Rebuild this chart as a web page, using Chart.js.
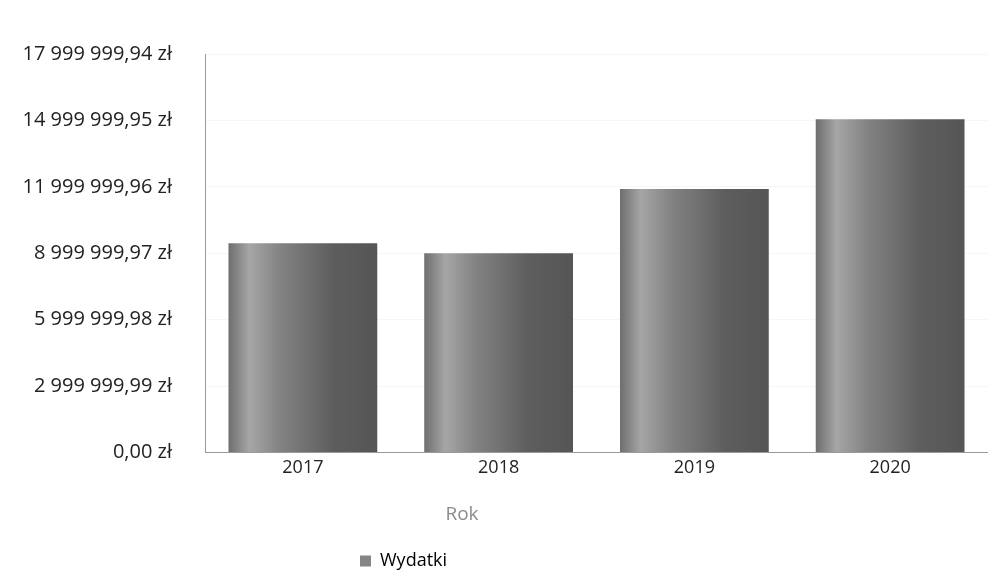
<!DOCTYPE html>
<html>
<head>
<meta charset="utf-8">
<script src="https://cdn.jsdelivr.net/npm/chart.js@4"></script>
<style>
  html, body { margin: 0; padding: 0; background: #fff; }
  #wrap { width: 988px; height: 571px; }
</style>
</head>
<body>
<div id="wrap"><canvas id="expenses-chart"></canvas></div>
<script>
const years = ['2017', '2018', '2019', '2020'];
const expenses = [9450000, 9000000, 11900000, 15050000];
const yTickValues = [0, 2999999.99, 5999999.98, 8999999.97, 11999999.96, 14999999.95, 17999999.94];
const yTickLabels = ['0,00 zł', '2 999 999,99 zł', '5 999 999,98 zł', '8 999 999,97 zł',
  '11 999 999,96 zł', '14 999 999,95 zł', '17 999 999,94 zł'];

const FONT = '"Open Sans", "DejaVu Sans", sans-serif';

// cylinder-ish shading across each bar
function barShade(context) {
  const chart = context.chart;
  const x = chart.scales.x;
  if (!chart.chartArea || !x || context.dataIndex === undefined) return '#7a7a7a';
  const meta = chart.getDatasetMeta(0);
  const bar = meta.data[context.dataIndex];
  let cx = x.getPixelForValue(context.dataIndex);
  let w = (x.width / years.length) * 0.76;
  if (bar && bar.width) { cx = bar.x; w = bar.width; }
  const g = chart.ctx.createLinearGradient(cx - w / 2, 0, cx + w / 2, 0);
  g.addColorStop(0, '#6e6e6e');
  g.addColorStop(0.14, '#a6a6a6');
  g.addColorStop(0.35, '#828282');
  g.addColorStop(0.7, '#5e5e5e');
  g.addColorStop(1, '#555555');
  return g;
}

// the picture is a crop of a wider chart, so "Rok" and the legend sit left of centre
const shiftBottomBoxes = {
  id: 'shiftBottomBoxes',
  afterLayout(chart) {
    const t = chart.titleBlock;
    if (t) {
      const half = (t.right - t.left) / 2;
      t.left = 462 - half;
      t.right = 462 + half;
    }
    const l = chart.legend;
    if (l) {
      l.left = 360 - l.options.labels.padding;
      l.top += 9;
      l.bottom += 9;
    }
  }
};

new Chart(document.getElementById('expenses-chart'), {
  type: 'bar',
  data: {
    labels: years,
    datasets: [{
      label: 'Wydatki',
      data: expenses,
      backgroundColor: barShade,
      borderWidth: 0,
      barPercentage: 0.76,
      categoryPercentage: 1.0,
    }],
  },
  options: {
    responsive: true,
    maintainAspectRatio: false,
    animation: false,
    layout: { padding: { top: 54, left: 0, right: 0, bottom: 0 } },
    scales: {
      x: {
        grid: { display: false, drawTicks: false },
        border: { color: '#9a9a9a', width: 1 },
        ticks: { color: '#222', padding: 4, font: { family: FONT, size: 18 } },
      },
      y: {
        min: 0,
        max: 17999999.94,
        afterBuildTicks(axis) {
          axis.ticks = yTickValues.map(v => ({ value: v }));
        },
        afterFit(axis) {
          axis.width = 205;
        },
        grid: { color: 'rgba(0,0,0,0.035)', drawTicks: false },
        border: { color: '#9a9a9a', width: 1 },
        ticks: {
          color: '#222',
          padding: 33,
          font: { family: FONT, size: 20 },
          callback: (value, index) => yTickLabels[index],
        },
      },
    },
    plugins: {
      tooltip: { enabled: false },
      title: {
        display: true,
        text: 'Rok',
        position: 'bottom',
        weight: 500,
        color: '#8c8c8c',
        font: { family: FONT, size: 19, weight: 'normal' },
        padding: { top: 21, bottom: 15 },
      },
      legend: {
        position: 'bottom',
        align: 'start',
        labels: {
          color: '#222',
          padding: 2,
          boxWidth: 11,
          boxHeight: 11,
          font: { family: FONT, size: 18 },
          generateLabels(chart) {
            return chart.data.datasets.map((ds, i) => ({
              text: ds.label,
              fillStyle: '#858585',
              strokeStyle: '#858585',
              lineWidth: 0,
              datasetIndex: i,
              hidden: false,
            }));
          },
        },
      },
    },
  },
  plugins: [shiftBottomBoxes],
});
</script>
</body>
</html>
